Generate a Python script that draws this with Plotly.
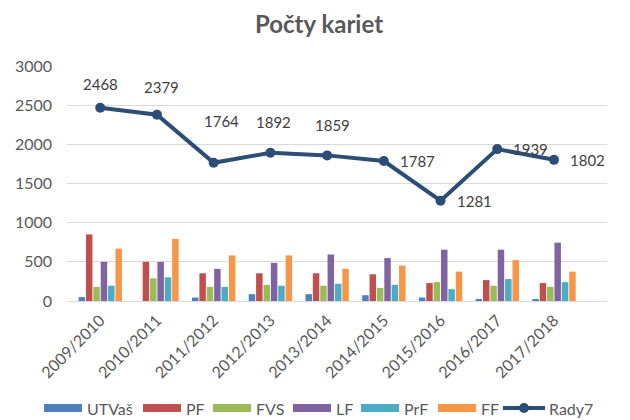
import plotly.graph_objects as go

categories = ["2009/2010", "2010/2011", "2011/2012", "2012/2013", "2013/2014",
              "2014/2015", "2015/2016", "2016/2017", "2017/2018"]
utvas = [50, 0, 44, 87, 87, 74, 44, 20, 20]
pf = [850, 500, 354, 354, 354, 341, 229, 267, 229]
fvs = [180, 290, 180, 207, 195, 168, 241, 195, 180]
lf = [500, 500, 410, 487, 594, 548, 655, 655, 745]
prf = [195, 302, 180, 195, 220, 207, 151, 280, 241]
ff = [668, 793, 582, 582, 410, 452, 375, 522, 375]
rady7 = [2468, 2379, 1764, 1892, 1859, 1787, 1281, 1939, 1802]

series_names = ["UTVaš", "PF", "FVS", "LF", "PrF", "FF"]
series_values = [utvas, pf, fvs, lf, prf, ff]
series_colors = ["#4F81BD", "#C0504D", "#9BBB59", "#8064A2", "#4BACC6", "#F79646"]
line_name = "Rady7"
line_color = "#2C4D75"
text_color = "#595959"
font_family = "Lato, Carlito, Calibri, sans-serif"

# the page body has an 8px margin, so the figure is drawn 8px right and down
OFF = 8
W, H = 630 - OFF, 420 - OFF
L, R, T, B = 67 - OFF, 23, 66 - OFF, 119
PW, PH = W - L - R, H - T - B


def px(x):
    """window pixel x -> paper coordinate"""
    return (x - OFF - L) / PW


def py(y):
    """window pixel y -> paper coordinate"""
    return (H - B - (y - OFF)) / PH


# label placement (pixel offsets of the data labels relative to their point)
label_dx = [0, 5, 8, 3, 5, 14, 14, 14, 14]
label_dy = [24, 28, 42, 31, 30, 0, 0, 0, 0]
label_anchor = ["center"] * 5 + ["left"] * 4

# legend layout (window pixel positions of swatch starts)
legend_swatch_x = [44, 143, 213, 293, 361, 438]
legend_line_x = 503
legend_y = 408

fig = go.Figure()
for name, vals, color in zip(series_names, series_values, series_colors):
    fig.add_trace(go.Bar(x=categories, y=vals, name=name, marker_color=color,
                         marker_line_width=0, showlegend=False))
fig.add_trace(go.Scatter(x=categories, y=rady7, name=line_name, mode="lines+markers",
                         line=dict(color=line_color, width=4),
                         marker=dict(color=line_color, size=10), showlegend=False))

for i, (c, v) in enumerate(zip(categories, rady7)):
    fig.add_annotation(x=c, y=v, text=str(v), showarrow=False,
                       xanchor=label_anchor[i], yanchor="middle",
                       xshift=label_dx[i], yshift=label_dy[i],
                       font=dict(size=15, color="#404040", family=font_family))

# manual legend with wide swatches
for name, color, sx in zip(series_names, series_colors, legend_swatch_x):
    fig.add_shape(type="rect", xref="paper", yref="paper",
                  x0=px(sx), x1=px(sx + 38), y0=py(legend_y - 4), y1=py(legend_y + 4),
                  fillcolor=color, line=dict(width=0))
    fig.add_annotation(xref="paper", yref="paper", x=px(sx + 41), y=py(legend_y),
                       text=name, showarrow=False, xanchor="left", yanchor="middle",
                       font=dict(size=16, color=text_color, family=font_family))
fig.add_shape(type="line", xref="paper", yref="paper",
              x0=px(legend_line_x), x1=px(legend_line_x + 42), y0=py(legend_y), y1=py(legend_y),
              line=dict(color=line_color, width=4))
fig.add_shape(type="circle", xref="paper", yref="paper",
              x0=px(legend_line_x + 16), x1=px(legend_line_x + 26),
              y0=py(legend_y - 5), y1=py(legend_y + 5),
              fillcolor=line_color, line=dict(width=0))
fig.add_annotation(xref="paper", yref="paper", x=px(legend_line_x + 44), y=py(legend_y),
                   text=line_name, showarrow=False, xanchor="left", yanchor="middle",
                   font=dict(size=16, color=text_color, family=font_family))

fig.update_layout(
    width=W, height=H,
    margin=dict(l=L, r=R, t=T, b=B),
    paper_bgcolor="white", plot_bgcolor="white",
    title=dict(text="<b>Počty kariet</b>", x=0.5, xanchor="center",
               y=1 - (25 - OFF) / H, yanchor="middle",
               font=dict(size=24, color=text_color, family=font_family), automargin=False),
    barmode="group", bargap=0.22, bargroupgap=0.12,
    font=dict(family=font_family, color=text_color, size=15),
    showlegend=False,
    xaxis=dict(tickangle=-45, showgrid=False, showline=False, ticks="", automargin=False,
               tickfont=dict(size=16, color=text_color), ticklabelstandoff=6),
    yaxis=dict(range=[0, 3000], dtick=500, showgrid=True, gridcolor="#D9D9D9", gridwidth=1,
               zeroline=True, zerolinecolor="#D9D9D9", zerolinewidth=1, showline=False,
               ticks="", automargin=False, tickfont=dict(size=16, color=text_color),
               ticklabelstandoff=14),
)

fig.write_html("out.html")
